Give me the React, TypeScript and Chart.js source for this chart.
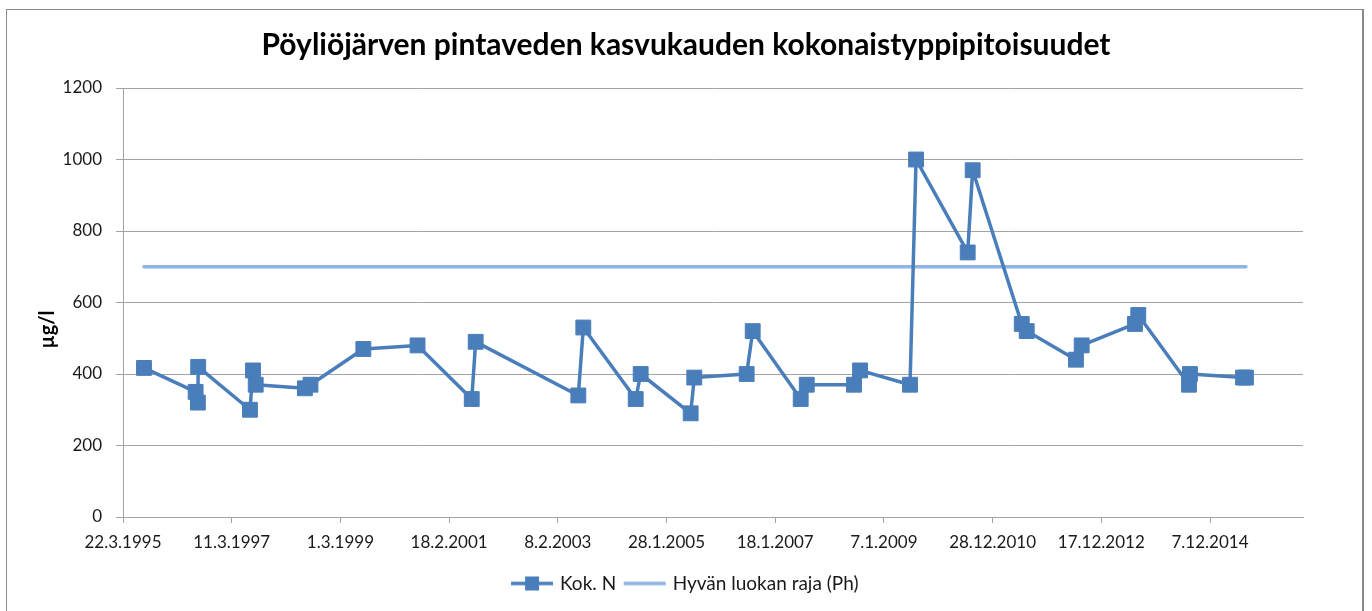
import React, { useEffect, useRef } from "react";
import { Chart, registerables } from "chart.js";

Chart.register(...registerables);

const titleText = "Pöyliöjärven pintaveden kasvukauden kokonaistyppipitoisuudet";
const yAxisTitle = "µg/l";
const seriesNames = ["Kok. N", "Hyvän luokan raja (Ph)"];

const sampleDates = [
  "8.8.1995", "15.7.1996", "30.7.1996", "1.8.1996", "10.7.1997", "30.7.1997", "17.8.1997",
  "9.7.1998", "15.8.1998", "31.7.1999", "24.7.2000", "18.7.2001", "13.8.2001", "24.6.2003",
  "27.7.2003", "8.7.2004", "10.8.2004", "7.7.2005", "31.7.2005", "13.7.2006", "22.8.2006",
  "6.7.2007", "15.8.2007", "23.6.2008", "2.8.2008", "29.6.2009", "8.8.2009", "16.7.2010",
  "18.8.2010", "9.7.2011", "11.8.2011", "2.7.2012", "9.8.2012", "28.7.2013", "19.8.2013",
  "21.7.2014", "27.7.2014", "14.7.2015", "2.8.2015",
];
const totalN = [
  417, 350, 320, 420, 300, 410, 370,
  360, 370, 470, 480, 330, 490, 340,
  530, 330, 400, 290, 390, 400, 520,
  330, 370, 370, 410, 370, 1000, 740,
  970, 540, 520, 440, 480, 540, 565,
  370, 400, 390, 390,
];

const limitDates = ["8.8.1995", "2.8.2015"];
const limitValues = [700, 700];

const xTickLabels = [
  "22.3.1995", "11.3.1997", "1.3.1999", "18.2.2001", "8.2.2003", "28.1.2005",
  "18.1.2007", "7.1.2009", "28.12.2010", "17.12.2012", "7.12.2014",
];
const xAxisSpanDays = 7816;
const yMin = 0;
const yMax = 1200;
const yStep = 200;

const FONT = "Lato";
const SERIES_COLOR = "#4a7ebb";
const LIMIT_COLOR = "#8db4e2";
const GRID_COLOR = "#a3a3a3";
const TEXT_COLOR = "#1a1a1a";

const toDay = (s: string) => {
  const [d, m, y] = s.split(".").map(Number);
  return Date.UTC(y, m - 1, d) / 86400000;
};

function legendIcon(color: string, lineWidth: number, marker: boolean) {
  const c = document.createElement("canvas");
  c.width = 46;
  c.height = 16;
  const ctx = c.getContext("2d")!;
  ctx.strokeStyle = color;
  ctx.lineWidth = lineWidth;
  ctx.beginPath();
  ctx.moveTo(2, 8);
  ctx.lineTo(44, 8);
  ctx.stroke();
  if (marker) {
    ctx.fillStyle = color;
    ctx.fillRect(23 - 7, 8 - 7, 14, 14);
  }
  return c;
}

const yTitlePlugin = {
  id: "yTitleCustom",
  afterDraw(chart: any) {
    const ctx = chart.ctx;
    const area = chart.chartArea;
    ctx.save();
    ctx.translate(area.left - 75, (area.top + area.bottom) / 2 + 27);
    ctx.rotate(-Math.PI / 2);
    ctx.font = `bold 20px ${FONT}`;
    ctx.fillStyle = "#000";
    ctx.textAlign = "center";
    ctx.textBaseline = "middle";
    ctx.fillText(yAxisTitle, 0, 0);
    ctx.restore();
  },
};

export default function App() {
  const canvasRef = useRef<HTMLCanvasElement | null>(null);

  useEffect(() => {
    const canvas = canvasRef.current;
    if (!canvas) return;
    const xMin = toDay(xTickLabels[0]);
    const xMax = xMin + xAxisSpanDays;
    const tickValues = xTickLabels.map(toDay);

    const seriesData = sampleDates.map((d, i) => ({ x: toDay(d), y: totalN[i] }));
    const limitData = limitDates.map((d, i) => ({ x: toDay(d), y: limitValues[i] }));

    const icons = [legendIcon(SERIES_COLOR, 3.5, true), legendIcon(LIMIT_COLOR, 3.5, false)];

    const chart = new Chart(canvas, {
      type: "line",
      data: {
        datasets: [
          {
            label: seriesNames[0],
            data: seriesData,
            borderColor: SERIES_COLOR,
            backgroundColor: SERIES_COLOR,
            borderWidth: 3.5,
            borderJoinStyle: "round",
            borderCapStyle: "round",
            pointStyle: "rect",
            pointRadius: 10.5,
            pointBorderWidth: 1,
            pointBorderColor: SERIES_COLOR,
            pointBackgroundColor: SERIES_COLOR,
            tension: 0,
            order: 1,
          },
          {
            label: seriesNames[1],
            data: limitData,
            borderColor: LIMIT_COLOR,
            backgroundColor: LIMIT_COLOR,
            borderWidth: 3.5,
            borderCapStyle: "round",
            pointRadius: 0,
            tension: 0,
            order: 2,
          },
        ],
      },
      options: {
        responsive: false,
        animation: false,
        layout: { padding: { left: 0, right: 0, top: 0, bottom: 8 } },
        plugins: {
          title: {
            display: true,
            text: titleText,
            color: "#000",
            font: { family: FONT, size: 30, weight: "bold", lineHeight: 1.2 },
            padding: { top: 27, bottom: 25 },
          },
          legend: {
            display: true,
            position: "bottom",
            labels: {
              usePointStyle: true,
              pointStyleWidth: 37,
              padding: 10,
              color: TEXT_COLOR,
              font: { family: FONT, size: 19 },
              generateLabels: () =>
                seriesNames.map((name, i) => ({
                  text: name,
                  pointStyle: icons[i],
                  fillStyle: "transparent",
                  strokeStyle: "transparent",
                  lineWidth: 0,
                  hidden: false,
                  datasetIndex: i,
                  fontColor: TEXT_COLOR,
                })),
            },
          },
          tooltip: { enabled: false },
        },
        scales: {
          x: {
            type: "linear",
            min: xMin,
            max: xMax,
            afterBuildTicks: (scale: any) => {
              scale.ticks = tickValues.map((v) => ({ value: v }));
            },
            afterFit: (scale: any) => {
              scale.height = 47;
            },
            ticks: {
              autoSkip: false,
              maxRotation: 0,
              padding: 9,
              color: TEXT_COLOR,
              font: { family: FONT, size: 17 },
              callback: (_v: any, i: number) => xTickLabels[i],
            },
            grid: {
              display: true,
              drawOnChartArea: false,
              drawTicks: true,
              tickLength: 6,
              color: GRID_COLOR,
            },
            border: { display: true, color: GRID_COLOR },
          },
          y: {
            type: "linear",
            position: "left",
            min: yMin,
            max: yMax,
            afterFit: (scale: any) => {
              scale.width = 123;
            },
            ticks: {
              stepSize: yStep,
              padding: 14,
              color: TEXT_COLOR,
              font: { family: FONT, size: 17 },
              callback: (v: any) => String(v),
            },
            grid: {
              color: GRID_COLOR,
              tickLength: 7,
              drawTicks: true,
            },
            border: { display: true, color: GRID_COLOR },
          },
          yRight: {
            type: "linear",
            position: "right",
            display: true,
            afterFit: (scale: any) => {
              scale.width = 69;
            },
            ticks: { display: false },
            grid: { display: false, drawTicks: false },
            border: { display: false },
          },
        },
      },
      plugins: [yTitlePlugin],
    } as any);

    return () => chart.destroy();
  }, []);

  return (
    <div style={{ position: "fixed", left: 0, top: 0, width: 1372, height: 611, background: "#fff", overflow: "hidden" }}>
      <canvas ref={canvasRef} width={1372} height={611} style={{ position: "absolute", left: 0, top: 0 }} />
      <div
        style={{
          position: "absolute",
          left: 6,
          top: 9,
          width: 1358,
          height: 700,
          borderLeft: "1px solid #8a8a8a",
          borderTop: "1px solid #8a8a8a",
          borderRight: "2px solid #8a8a8a",
          boxSizing: "border-box",
          pointerEvents: "none",
        }}
      />
    </div>
  );
}
